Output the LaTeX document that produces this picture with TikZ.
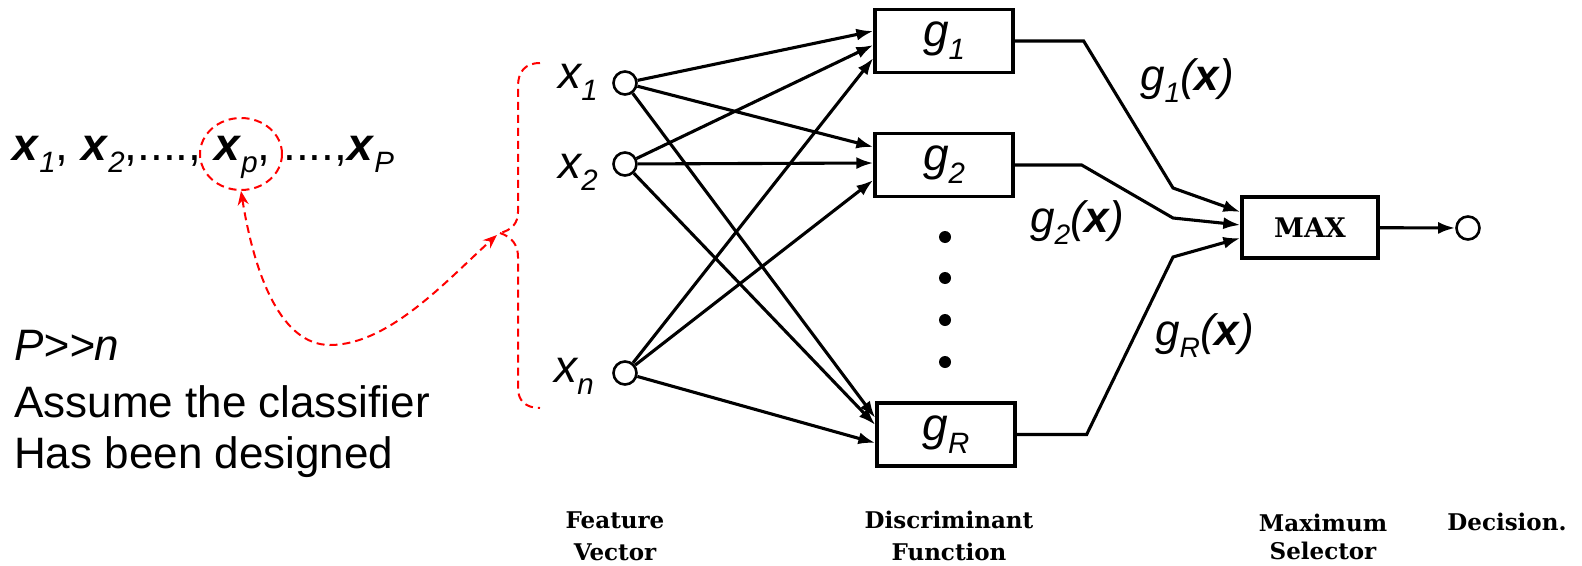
\documentclass[tikz,border=0pt]{standalone}
\usepackage{fontspec}
\usepackage{graphicx}
\setmainfont{Liberation Sans}
\newfontfamily\labelserif{DejaVu Serif}
\usetikzlibrary{arrows.meta,shapes.geometric}
% bold italic vector x, and a lowered italic subscript
\newcommand\vx{\textbf{\textit{x}}}
\newcommand\lo[1]{\raisebox{-.28em}{\scalebox{.64}{\itshape #1}}}
\newcommand\px[2]{\fontsize{#1}{#2}\selectfont}

\begin{document}
\begin{tikzpicture}[x=1pt,y=-1pt,
  wire/.style={line width=3.1pt, black},
  arr/.style={wire, -{Latex[length=17pt,width=12pt]}},
  gbox/.style={draw, line width=3.3pt, minimum width=138pt, minimum height=63pt,
    inner sep=0pt, font=\px{46}{46}\itshape},
  port/.style={draw, circle, line width=2.6pt, minimum size=23pt, inner sep=0pt},
  dotmark/.style={circle, fill, inner sep=0pt, minimum size=12pt},
  lab/.style={inner sep=0pt, font=\px{46}{46}\itshape},
  outlab/.style={inner sep=0pt, font=\px{44}{44}\itshape},
  note/.style={inner sep=0pt, font=\px{44}{52}},
  caption/.style={inner sep=0pt, font=\labelserif\bfseries\px{23}{32}, align=center},
  hint/.style={red, line width=2pt, dash pattern=on 8pt off 5pt},
  hinttip/.style={{Stealth[length=14pt,width=11pt]}-{Stealth[length=14pt,width=11pt]}}
]
\useasboundingbox (0,0) rectangle (1582,565);

% ---- left-hand notes ----
\node[note, anchor=base west, font=\px{46}{52}] (seq) at (12,160)
  {\vx\lo{1}, \vx\lo{2},...., \vx\lo{p}, ....,\vx\lo{P}};
\node[note, anchor=base west] (rel) at (14,360) {\textit{P>\kern0pt>\kern0pt n}};
\node[note, anchor=base west] (as1) at (14,417) {Assume the classifier};
\node[note, anchor=base west] (as2) at (14,468) {Has been designed};

% ---- feature inputs ----
\node[port] (x1) at (625,83) {};
\node[port] (x2) at (625,164) {};
\node[port] (xn) at (625,373) {};
\node[lab, anchor=base east] (lx1) at (598,88) {x\lo{1}};
\node[lab, anchor=base east] (lx2) at (598,178) {x\lo{2}};
\node[lab, anchor=base east] (lxn) at (594,382) {x\lo{n}};

% ---- discriminant functions ----
\node[gbox] (g1) at (944,41) {g\lo{1}};
\node[gbox] (g2) at (944,165) {g\lo{2}};
\node[gbox] (gR) at (946,434.5) {g\lo{R}};
\node[dotmark] (d1) at (945,237) {};
\node[dotmark] (d2) at (945,278) {};
\node[dotmark] (d3) at (945,320) {};
\node[dotmark] (d4) at (945,362) {};

% inputs fan out to every function box
\draw[arr] (x1) -- ([yshift=10pt]g1.west);
\draw[arr] (x2) -- ([yshift=-4pt]g1.west);
\draw[arr] (xn) -- ([yshift=-17pt]g1.west);
\draw[arr] (x1) -- ([yshift=18pt]g2.west);
\draw[arr] (x2) -- ([yshift=2pt]g2.west);
\draw[arr] (xn) -- ([yshift=-15pt]g2.west);
\draw[arr] (x1) -- ([yshift=16.5pt]gR.west);
\draw[arr] (x2) -- ([yshift=9.5pt]gR.west);
\draw[arr] (xn) -- ([yshift=-8.5pt]gR.west);

% ---- maximum selector and decision ----
\node[draw, line width=3.3pt, minimum width=136pt, minimum height=61pt,
  font=\labelserif\bfseries\px{27}{27}] (mx) at (1310,227.5) {MAX};
\node[port] (dec) at (1468,228) {};

\draw[arr] (g1.east) -- ++(69,0) -- (1173,188) -- ([yshift=15.5pt]mx.west);
\draw[arr] (g2.east) -- ++(67,0) -- (1173,218) -- ([yshift=2.5pt]mx.west);
\draw[arr] (gR.east) -- ++(70,0) -- (1173,257) -- ([yshift=-10.5pt]mx.west);
\draw[arr] (mx) -- (dec);

\node[outlab, anchor=base west] (o1) at (1140,90) {g\lo{1}(\vx)};
\node[outlab, anchor=base west] (o2) at (1030,232) {g\lo{2}(\vx)};
\node[outlab, anchor=base west] (oR) at (1155,345) {g\lo{R}(\vx)};

% ---- stage captions (base anchor sits on the last line) ----
\node[caption, anchor=base] (c1) at (615,560) {Feature\\Vector};
\node[caption, anchor=base] (c2) at (949,560) {Discriminant\\Function};
\node[caption, anchor=base, font=\labelserif\bfseries\px{23}{28}] (c3)
  at (1323,559) {Maximum\\Selector};
\node[caption, anchor=base] (c4) at (1507,530) {Decision.};

% ---- red dashed annotation ----
\node[draw, ellipse, hint, minimum width=82pt, minimum height=72pt, inner sep=0pt]
  (pc) at (241,154) {};
\coordinate (bt) at (540,63);
\coordinate (cusp) at (500,233);
\coordinate (bb) at (540,408);
\draw[hint] (bt) .. controls (525,63) and (518,72) .. (518,86) -- (518,212)
  .. controls (518,223) and (512,230) .. (cusp);
\draw[hint] (cusp) .. controls (512,237) and (518,245) .. (518,257) -- (518,388)
  .. controls (518,400) and (525,408) .. (bb);
\draw[hint, hinttip] (pc.south) .. controls (255,278) and (282,345) .. (330,345)
  .. controls (390,345) and (450,277) .. ([xshift=-3pt,yshift=-2pt]cusp);
\end{tikzpicture}
\end{document}
